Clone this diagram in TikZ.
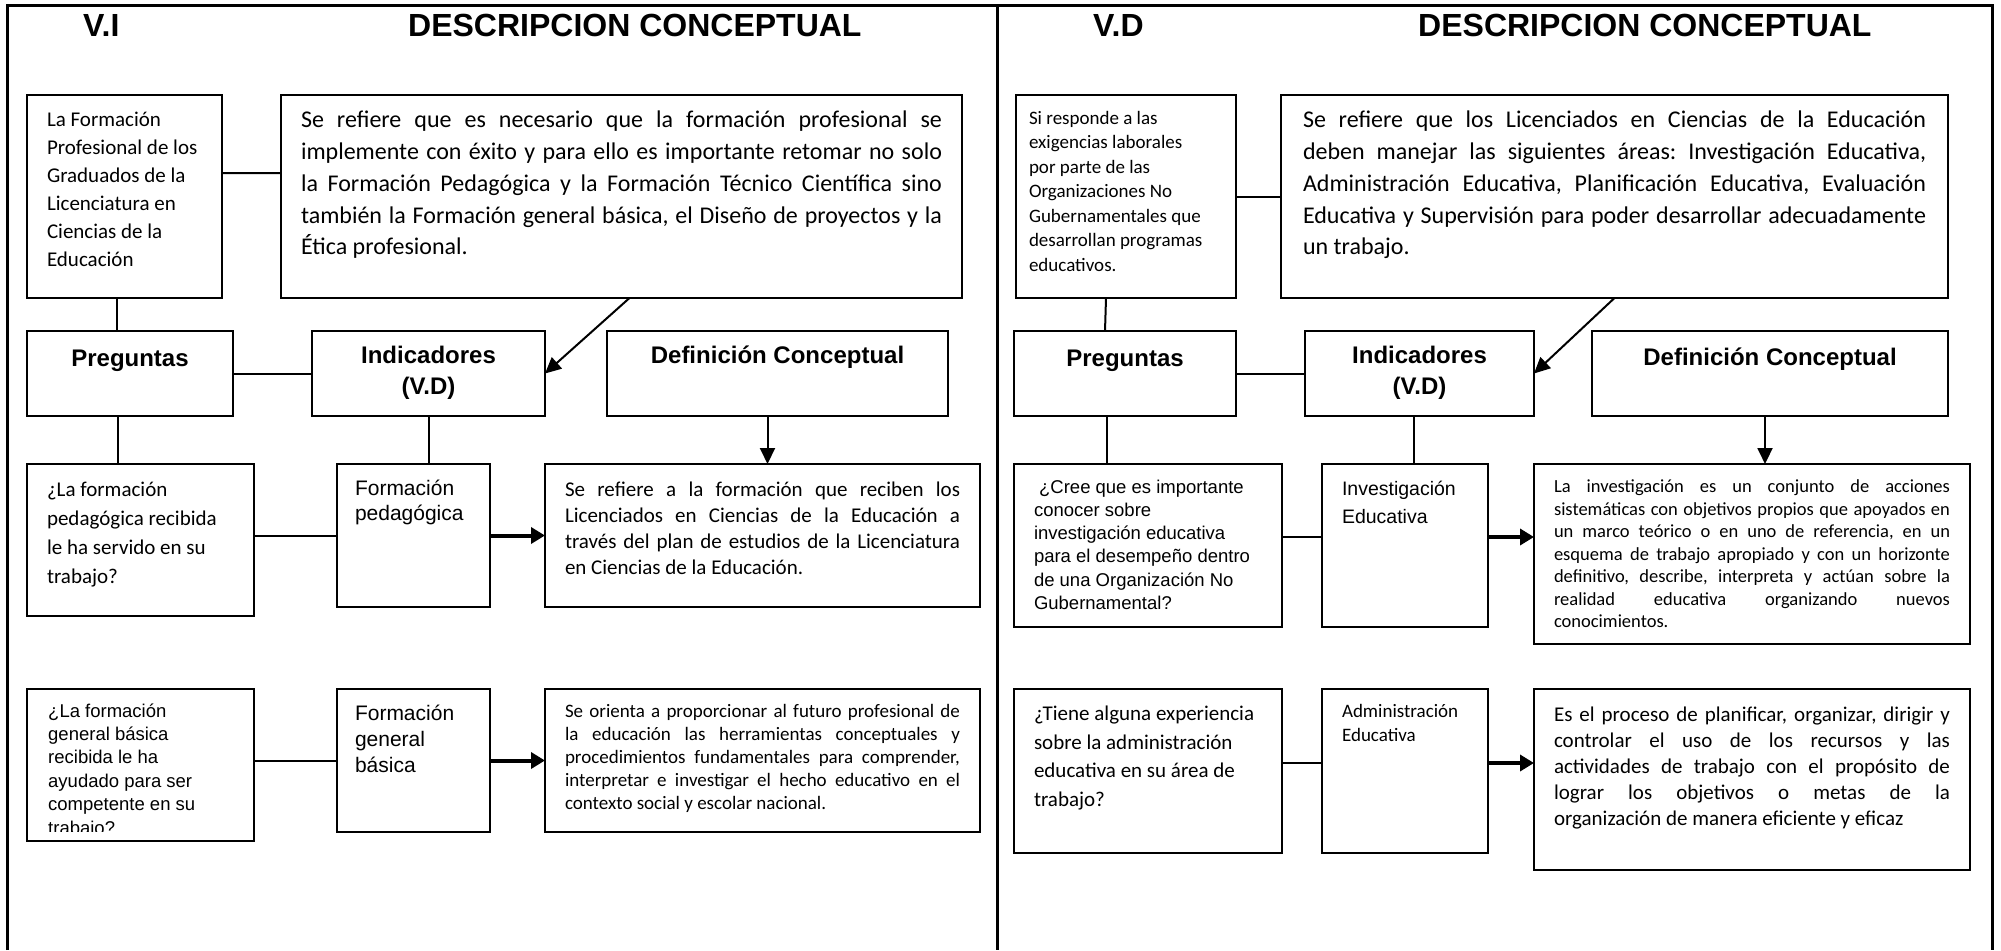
\documentclass[tikz,border=0pt]{standalone}
\usepackage{fontspec}
\setmainfont{Carlito}
\newfontfamily\arial{Liberation Sans}
\usetikzlibrary{arrows.meta}
\frenchspacing
\newcommand{\tam}[2]{\fontsize{#1}{#2}\selectfont}
\newcommand{\cajatxt}[4]{\parbox[c][#2][t]{#1}{#3\strut#4}}

\begin{document}
\begin{tikzpicture}[x=1pt, y=-1pt,
    titulo/.style={anchor=base west, inner sep=0pt, font=\arial\bfseries\tam{32}{38}},
    caja/.style={draw, line width=2pt, anchor=north west, inner xsep=20pt, outer sep=0pt},
    marco/.style={line width=3pt},
    linea/.style={line width=2pt},
    flecha/.style={line width=2pt, -{Triangle[length=16pt,width=15pt]}},
    flechagruesa/.style={line width=4pt, -{Triangle[length=14pt,width=16pt]}}]
    \useasboundingbox (0,0) rectangle (2001,950);
    \draw[marco] (7,950) -- (7,6) -- (1992,6) -- (1992,950);
    \draw[marco] (997,6) -- (997,950);

    \node[titulo] (vi) at (83,37) {V.I};
    \node[titulo] (titizq) at (408,37) {DESCRIPCION CONCEPTUAL};
    \node[titulo] (vd) at (1093,37) {V.D};
    \node[titulo] (titder) at (1418,37) {DESCRIPCION CONCEPTUAL};

    \node[caja, inner ysep=11.4pt] (formprof) at (27,95)
      {\cajatxt{155pt}{180.2pt}{\tam{21}{28}\raggedright}{La Formación\\ Profesional de los\\ Graduados de la\\ Licenciatura en\\ Ciencias de la\\ Educación}};
    \node[caja, inner ysep=10.8pt] (defA) at (281,95)
      {\cajatxt{641pt}{181.4pt}{\tam{24}{31.7}}{Se refiere que es necesario que la formación profesional se\linebreak implemente con éxito y para ello es importante retomar no solo\linebreak la Formación Pedagógica y la Formación Técnico Científica sino\linebreak también la Formación general básica, el Diseño de proyectos y la\linebreak Ética profesional.}};
    \node[caja, inner ysep=13.3pt] (pregA) at (27,331)
      {\cajatxt{166pt}{58.4pt}{\arial\bfseries\tam{24}{31}\centering}{Preguntas}};
    \node[caja, inner ysep=10.3pt] (indA) at (312,331)
      {\cajatxt{193pt}{64.4pt}{\arial\bfseries\tam{24}{31}\centering}{Indicadores\\ (V.D)}};
    \node[caja, inner ysep=10.3pt] (dconA) at (607,331)
      {\cajatxt{301pt}{64.4pt}{\arial\bfseries\tam{24}{31}\centering}{Definición Conceptual}};
    \node[caja, inner ysep=11.7pt] (preguntaA) at (27,464)
      {\cajatxt{187pt}{128.6pt}{\tam{21}{29}\raggedright}{¿La formación\\ pedagógica recibida\\ le ha servido en su\\ trabajo?}};
    \node[caja, inner xsep=18pt, inner ysep=13.5pt] (indicA) at (337,464)
      {\cajatxt{117pt}{116pt}{\arial\tam{21}{25}\raggedright}{Formación\\ pedagógica}};
    \node[caja, inner ysep=13.8pt] (dcA) at (545,464)
      {\cajatxt{395pt}{115.4pt}{\tam{21}{26}}{Se refiere a la formación que reciben los\linebreak Licenciados en Ciencias de la Educación a\linebreak través del plan de estudios de la Licenciatura\linebreak en Ciencias de la Educación.}};
    \node[caja, minimum width=227pt, minimum height=152pt] (pregunta2A) at (27,689) {};
    \begin{scope}
      \clip (27,689) rectangle (254,831);
      \node[anchor=north west, inner sep=0pt] (pregunta2Atxt) at (48,700.6)
        {\parbox[t]{190pt}{\arial\tam{18.5}{23.4}\raggedright\strut ¿La formación\\ general básica\\ recibida le ha\\ ayudado para ser\\ competente en su\\ trabajo?}};
    \end{scope}
    \node[caja, inner xsep=18pt, inner ysep=13.5pt] (indic2A) at (337,689)
      {\cajatxt{117pt}{116pt}{\arial\tam{21}{26}\raggedright}{Formación\\ general\\ básica}};
    \node[caja, inner ysep=11.8pt] (dc2A) at (545,689)
      {\cajatxt{395pt}{119.4pt}{\tam{19}{23.2}}{Se orienta a proporcionar al futuro profesional de\linebreak la educación las herramientas conceptuales y\linebreak procedimientos fundamentales para comprender,\linebreak interpretar e investigar el hecho educativo en el\linebreak contexto social y escolar nacional.}};

    \node[caja, inner xsep=13pt, inner ysep=11.85pt] (formprofB) at (1016,95)
      {\cajatxt{194pt}{179.3pt}{\tam{19}{24.5}\raggedright}{Si responde a las\\ exigencias laborales\\ por parte de las\\ Organizaciones No\\ Gubernamentales que\\ desarrollan programas\\ educativos.}};
    \node[caja, inner xsep=22pt, inner ysep=10.8pt] (defB) at (1281,95)
      {\cajatxt{623pt}{181.4pt}{\tam{24}{31.7}}{Se refiere que los Licenciados en Ciencias de la Educación\linebreak deben manejar las siguientes áreas: Investigación Educativa,\linebreak Administración Educativa, Planificación Educativa, Evaluación\linebreak Educativa y Supervisión para poder desarrollar adecuadamente\linebreak un trabajo.}};
    \node[caja, inner ysep=13.3pt] (pregB) at (1014,331)
      {\cajatxt{182pt}{58.4pt}{\arial\bfseries\tam{24}{31}\centering}{Preguntas}};
    \node[caja, inner ysep=10.3pt] (indB) at (1305,331)
      {\cajatxt{189pt}{64.4pt}{\arial\bfseries\tam{24}{31.5}\centering}{Indicadores\\ (V.D)}};
    \node[caja, inner ysep=12.3pt] (dconB) at (1592,331)
      {\cajatxt{316pt}{60.4pt}{\arial\bfseries\tam{24}{31}\centering}{Definición Conceptual}};
    \node[caja, inner ysep=12.7pt] (preguntaB) at (1014,464)
      {\cajatxt{228pt}{137.6pt}{\arial\tam{18.5}{23.3}\raggedright}{\ ¿Cree que es importante\\ conocer sobre\\ investigación educativa\\ para el desempeño dentro\\ de una Organización No\\ Gubernamental?}};
    \node[caja, inner ysep=12.1pt] (indicB) at (1322,464)
      {\cajatxt{126pt}{138.8pt}{\arial\tam{19.5}{28}\raggedright}{Investigación\\ Educativa}};
    \node[caja, inner ysep=12.9pt] (dcB) at (1534,464)
      {\cajatxt{396pt}{154.2pt}{\tam{18.5}{22.5}}{La investigación es un conjunto de acciones\linebreak sistemáticas con objetivos propios que apoyados en\linebreak un marco teórico o en uno de referencia, en un\linebreak esquema de trabajo apropiado y con un horizonte\linebreak definitivo, describe, interpreta y actúan sobre la\linebreak realidad educativa organizando nuevos\linebreak conocimientos.}};
    \node[caja, inner ysep=11.75pt] (pregunta2B) at (1014,689)
      {\cajatxt{228pt}{140.5pt}{\tam{21}{28.5}\raggedright}{¿Tiene alguna experiencia\\ sobre la administración\\ educativa en su área de\\ trabajo?}};
    \node[caja, inner ysep=11.2pt] (indic2B) at (1322,689)
      {\cajatxt{126pt}{141.6pt}{\tam{19}{24}\raggedright}{Administración\\ Educativa}};
    \node[caja, inner ysep=14.5pt] (dc2B) at (1534,689)
      {\cajatxt{396pt}{152pt}{\tam{21}{26}}{Es el proceso de planificar, organizar, dirigir y\linebreak controlar el uso de los recursos y las\linebreak actividades de trabajo con el propósito de\linebreak lograr los objetivos o metas de la\linebreak organización de manera eficiente y eficaz}};

    \draw[linea] ([yshift=23.5pt]formprof.east) -- ([yshift=23.5pt]defA.west);
    \draw[linea] ([xshift=-7.5pt]formprof.south) -- ([xshift=-13pt]pregA.north);
    \draw[linea] (pregA) -- (indA);
    \draw[flecha] ([xshift=8pt]defA.south) -- (indA.east);
    \draw[linea] ([xshift=-12pt]pregA.south) -- ([xshift=-22.5pt]preguntaA.north);
    \draw[linea] (indA.south) -- (indA.south |- indicA.north);
    \draw[flecha] ([xshift=-10pt]dconA.south) -- ([xshift=-10pt]dconA.south |- dcA.north);
    \draw[linea] (indicA.west -| preguntaA.east) -- (indicA.west);
    \draw[flechagruesa] (indicA) -- (dcA);
    \draw[linea] (indic2A.west -| pregunta2A.east) -- (indic2A.west);
    \draw[flechagruesa] (indic2A) -- (dc2A);

    \draw[linea] (formprofB) -- (defB);
    \draw[linea] ([xshift=-20pt]formprofB.south) -- ([xshift=-20pt]pregB.north);
    \draw[linea] (pregB) -- (indB);
    \draw[flecha] (defB.south) -- (indB.east);
    \draw[linea] ([xshift=-18pt]pregB.south) -- ([xshift=-41pt]preguntaB.north);
    \draw[linea] ([xshift=-5.5pt]indB.south) -- ([xshift=9pt]indicB.north);
    \draw[flecha] ([xshift=-5pt]dconB.south) -- ([xshift=-5pt]dconB.south |- dcB.north);
    \draw[linea] ([yshift=8.5pt]preguntaB.east) -- ([yshift=8.5pt]indicB.west);
    \draw[flechagruesa] ([yshift=8.5pt]indicB.east) -- ([yshift=8.5pt]indicB.east -| dcB.west);
    \draw[linea] ([yshift=8pt]pregunta2B.east) -- ([yshift=8pt]indic2B.west);
    \draw[flechagruesa] ([yshift=8pt]indic2B.east) -- ([yshift=8pt]indic2B.east -| dc2B.west);
\end{tikzpicture}
\end{document}
